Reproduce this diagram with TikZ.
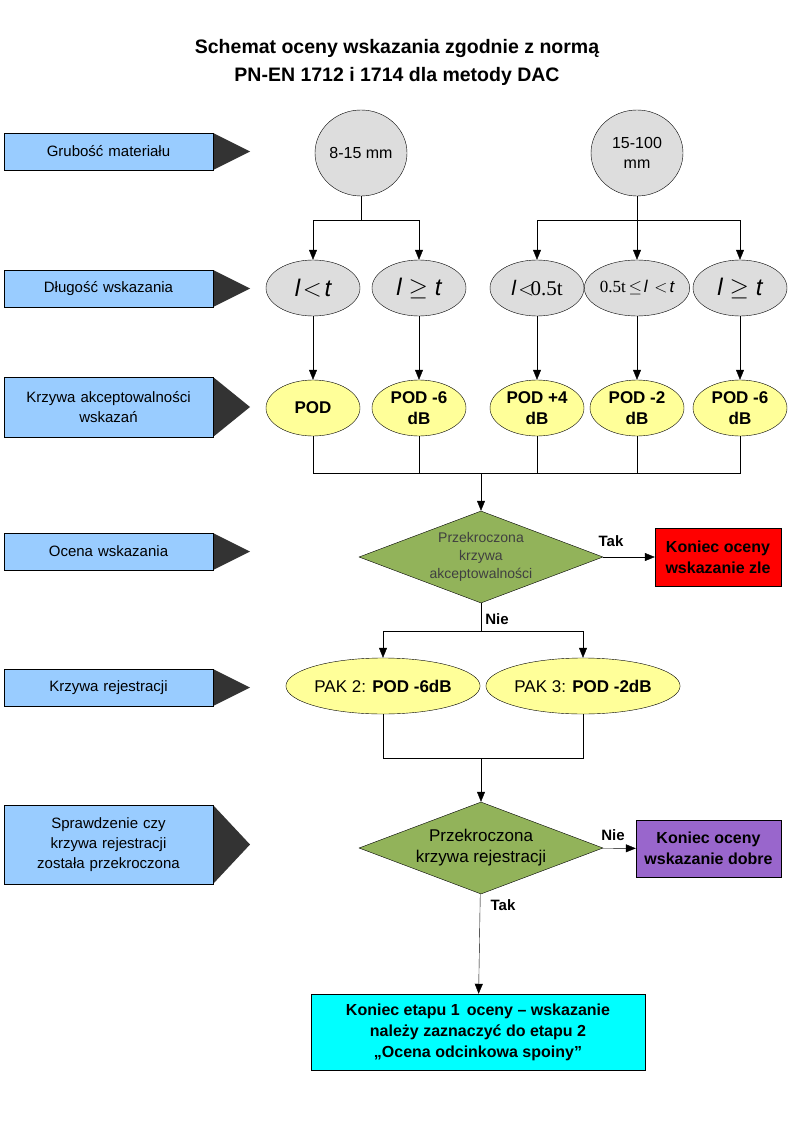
\documentclass[tikz,border=0pt]{standalone}
\usepackage{fontspec}
\setmainfont{Liberation Sans}
\newfontfamily\tms{Liberation Serif}
\usetikzlibrary{shapes.geometric,arrows.meta}
\definecolor{lblue}{HTML}{99CCFF}
\definecolor{dgray}{HTML}{333333}
\definecolor{egray}{HTML}{DDDDDD}
\definecolor{lyel}{HTML}{FFFF99}
\definecolor{dgreen}{HTML}{92B35A}
\definecolor{purp}{HTML}{9966CC}
\definecolor{cyn}{HTML}{00FFFF}
\begin{document}
\begin{tikzpicture}[x=1pt,y=-1pt,
 lab/.style={draw=black,fill=lblue,minimum width=209pt,text width=207pt,align=center,inner sep=0pt,font=\fontsize{15}{20}\selectfont},
 tri/.style={fill=dgray},
 ge/.style={ellipse,draw=black,fill=egray,minimum width=94pt,minimum height=56pt,inner sep=0pt,align=center,font=\fontsize{16}{20}\selectfont},
 me/.style={ellipse,draw=black,fill=egray,minimum width=94pt,minimum height=56pt,inner sep=0pt,font=\tms\fontsize{24}{26}\selectfont},
 ye/.style={ellipse,draw=black,fill=lyel,minimum width=94pt,minimum height=56pt,inner sep=0pt,align=center,font=\bfseries\fontsize{17}{21}\selectfont},
 pe/.style={ellipse,draw=black,fill=lyel,minimum width=187pt,minimum height=56pt,inner sep=0pt,font=\fontsize{17}{20}\selectfont},
 dia/.style={diamond,draw=black,fill=dgreen,minimum width=244pt,minimum height=92pt,inner sep=0pt,align=center,aspect=2.65},
 arr/.style={-{Triangle[length=10pt,width=8pt]}},
 yl/.style={font=\bfseries\fontsize{15}{17}\selectfont}]
\useasboundingbox (0,0) rectangle (794,1123);
\node[font=\bfseries\fontsize{19.5}{28}\selectfont,align=center] (title) at (397,62) {Schemat oceny wskazania zgodnie z normą\\PN-EN 1712 i 1714 dla metody DAC};
% left labels
\foreach \n/\yt/\yb/\t in {l1/133/170/{Grubość materiału},l2/270/307/{Długość wskazania},l3/377/437/{Krzywa akceptowalności\\wskazań},l4/533/570/{Ocena wskazania},l5/669/706/{Krzywa rejestracji},l6/805/884/{Sprawdzenie czy\\krzywa rejestracji\\została przekroczona}}{
 \fill[tri] (213,\yt) -- (250,{(\yt+\yb)/2}) -- (213,\yb) -- cycle;
 \node[lab,minimum height={\yb-\yt}] (\n) at (108.5,{(\yt+\yb)/2}) {\t};
}
% top ellipses
\node[ge,minimum width=92pt,minimum height=86pt] (t1) at (361,153) {8-15 mm};
\node[ge,minimum width=92pt,minimum height=86pt] (t2) at (637,153) {15-100\\mm};
% row 2
\node[me] (a1) at (313,288) {$\mathit{l}\!<\!\mathit{t}$};
\node[me] (a2) at (419,288) {$\mathit{l}\geq \mathit{t}$};
\node[me,font=\tms\fontsize{21}{23}\selectfont] (a3) at (537,288) {$\mathit{l}\!<\!$0.5t};
\node[me,font=\tms\fontsize{17}{19}\selectfont] (a4) at (637,288) {0.5t$\,\leq\!\mathit{l}\;\!<\!\mathit{t}$};
\node[me] (a5) at (740,288) {$\mathit{l}\geq \mathit{t}$};
% row 3
\node[ye] (b1) at (313,408) {POD};
\node[ye] (b2) at (419,408) {POD -6\\dB};
\node[ye] (b3) at (537,408) {POD +4\\dB};
\node[ye] (b4) at (637,408) {POD -2\\dB};
\node[ye] (b5) at (740,408) {POD -6\\dB};
% branching
\coordinate (j1) at (361,220);
\coordinate (j2) at (637,220);
\draw (t1) -- (j1);
\draw (t2) -- (j2);
\draw[arr] (j1) -| (a1);
\draw[arr] (j1) -| (a2);
\draw[arr] (j2) -| (a3);
\draw[arr] (j2) -- (a4);
\draw[arr] (j2) -| (a5);
\foreach \i in {1,...,5}{\draw[arr] (a\i) -- (b\i);}
\coordinate (m1) at (481,473);
\foreach \i in {1,...,5}{\draw (b\i) |- (m1);}
% diamond 1
\node[dia,font=\fontsize{14}{18}\selectfont\color{black!75}] (d1) at (481,557) {Przekroczona\\krzywa\\akceptowalności};
\draw[arr] (m1) -- (d1);
\node[draw=black,fill=red,minimum width=126pt,minimum height=58pt,inner sep=0pt,align=center,font=\bfseries\fontsize{16}{21}\selectfont] (r1) at (718,557) {Koniec oceny\\wskazanie zle};
\draw[arr] (d1) -- (r1);
\node[yl] (tak1) at (611,541) {Tak};
\node[yl] (nie1) at (497,619) {Nie};
\coordinate (j3) at (481,631);
\node[pe] (p1) at (383,686) {PAK 2: \textbf{POD -6dB}};
\node[pe] (p2) at (583,686) {PAK 3: \textbf{POD -2dB}};
\draw (d1) -- (j3);
\draw[arr] (j3) -| (p1);
\draw[arr] (j3) -| (p2);
\coordinate (m2) at (481,758);
\draw (p1) |- (m2);
\draw (p2) |- (m2);
% diamond 2
\node[dia,font=\fontsize{17}{21}\selectfont] (d2) at (481,848) {Przekroczona\\krzywa rejestracji};
\draw[arr] (m2) -- (d2);
\node[draw=black,fill=purp,minimum width=145pt,minimum height=57pt,inner sep=0pt,align=center,font=\bfseries\fontsize{16}{21}\selectfont] (r2) at (708.5,848.5) {Koniec oceny\\wskazanie dobre};
\draw[arr] (d2) -- (r2);
\node[yl] (nie2) at (613,835) {Nie};
\node[yl] (tak2) at (503,905) {Tak};
\node[draw=black,fill=cyn,minimum width=334pt,minimum height=76pt,inner sep=0pt,align=center,font=\bfseries\fontsize{16}{21}\selectfont] (e) at (478,1032) {Koniec etapu 1\, oceny – wskazanie\\należy zaznaczyć do etapu 2\\„Ocena odcinkowa spoiny”};
\draw[arr] (d2) -- (e);
\end{tikzpicture}
\end{document}
